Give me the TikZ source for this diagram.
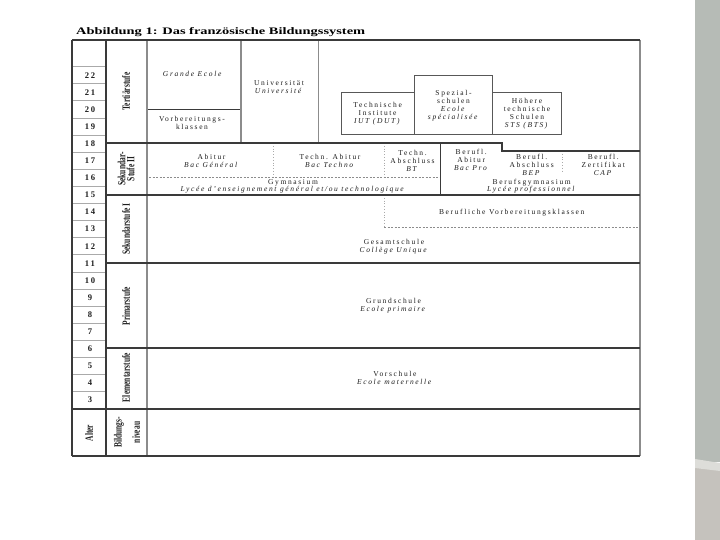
\documentclass[tikz,border=0pt]{standalone}
\usepackage{fontspec}
\usepackage{graphicx}
\setmainfont{Liberation Serif}[LetterSpace=22]
\newfontfamily\stagefont{Liberation Serif}
\newfontfamily\agefont{Liberation Serif}[LetterSpace=22]
\usetikzlibrary{positioning}
\definecolor{sgrid}{HTML}{3A3A3A}
\definecolor{sgray}{HTML}{8C8C8C}
\definecolor{sthin}{HTML}{AAAAAA}
\definecolor{stext}{HTML}{1E1E1E}
\definecolor{swall}{HTML}{B6BBB6}
\definecolor{sfloor}{HTML}{C5C2BD}
\definecolor{slight}{HTML}{DDDDD9}
\tikzset{
  x=1pt, y=-1pt,
  cell/.style={font=\fontsize{7.5}{8}\selectfont, text=stext, align=center, inner sep=0pt},
  age/.style={font=\agefont\fontsize{8.6}{9}\selectfont\bfseries, text=stext, inner sep=0pt},
  stage/.style={rotate=90, xscale=0.68, font=\stagefont\fontsize{11}{9}\selectfont\bfseries,
    text=stext, align=center, inner sep=0pt},
  heavy/.style={draw=sgrid, line width=2pt},
  rule/.style={draw=sgray, line width=1.6pt},
  edge/.style={draw=sgrid, line width=1.1pt},
  hair/.style={draw=sthin, line width=0.8pt},
  boxline/.style={draw=sgrid!85, line width=0.9pt},
  dotline/.style={draw=sthin, line width=0.8pt, dotted},
  dashline/.style={draw=sgray, line width=0.6pt, dash pattern=on 2pt off 1.5pt}
}

\begin{document}
\begin{tikzpicture}
  \useasboundingbox (0,0) rectangle (720,540);
  \fill[white] (0,0) rectangle (720,540);
  \fill[swall] (695,0) rectangle (720,462);
  \fill[sfloor] (695,466) rectangle (720,540);
  \fill[slight] (695,459) -- (720,463) -- (720,471) -- (695,468) -- cycle;
  \node[anchor=base west, inner sep=0pt] (title) at (76,35)
    {\resizebox{289pt}{7pt}{\stagefont\bfseries Abbildung 1: Das französische Bildungssystem}};
  \foreach \k in {0,...,19} \draw[hair] (72,{66.7+\k*17.1}) -- (106,{66.7+\k*17.1});
  \foreach \a in {3,...,22} \node[age] (age\a) at (90,{66.7+(22.5-\a)*17.1}) {\a};
  \draw[dotline] (273,143) -- (273,177.3);
  \draw[dotline] (384,143) -- (384,177.3);
  \draw[dotline] (384,195) -- (384,227.7);
  \draw[dotline] (562.7,151) -- (562.7,172);
  \draw[dashline] (149,177.3) -- (440.7,177.3);
  \draw[dashline] (384,227.7) -- (640,227.7);
  \draw[boxline] (341,92.3) rectangle (414.3,134.3);
  \draw[boxline] (414.3,75) rectangle (492.5,134.3);
  \draw[boxline] (492.5,92.3) rectangle (561.7,134.3);
  \draw[edge] (147,109.3) -- (241,109.3);
  \draw[rule] (241,40) -- (241,143);
  \draw[rule] (318.3,40) -- (318.3,143);
  \draw[edge] (440.7,143) -- (440.7,195);
  \draw[rule] (147,40) -- (147,456);
  \draw[rule] (640,40) -- (640,456);
  \draw[heavy] (106,143) -- (501.7,143) -- (501.7,151) -- (640,151);
  \foreach \y in {195,263,348} \draw[heavy] (106,\y) -- (640,\y);
  \draw[heavy] (72,408.7) -- (640,408.7);
  \draw[heavy] (106,40) -- (106,456);
  \draw[edge] (72,40) -- (640,40);
  \draw[edge] (72,456) -- (640,456);
  \draw[edge] (72,40) -- (72,456);
  \node[stage] (tert) at (126,91.5) {Tertiärstufe};
  \node[stage] (sek2) at (126,169) {Sekundar-\\Stufe II};
  \node[stage] (sek1) at (126,229) {Sekundarstufe I};
  \node[stage] (prim) at (126,306) {Primarstufe};
  \node[stage] (elem) at (126,377.5) {Elementarstufe};
  \node[stage] (niveau) at (127,432.4) {Bildungs-\\[7pt]niveau};
  \node[stage] (alter) at (89,433) {Alter};
  \node[cell] (grande) at (193,73.5) {\textit{Grande Ecole}};
  \node[cell] (vorb) at (192,123) {Vorbereitungs-\\klassen};
  \node[cell] (uni) at (279,87.5) {Universität\\\textit{Université}};
  \node[cell] (iut) at (377.6,113.3) {Technische\\Institute\\\textit{IUT (DUT)}};
  \node[cell] (spez) at (453.5,105.4) {Spezial-\\schulen\\\textit{Ecole}\\\textit{spécialisée}};
  \node[cell] (sts) at (527,114) {Höhere\\technische\\Schulen\\\textit{STS (BTS)}};
  \node[cell] (abitur) at (211.5,161.3) {Abitur\\\textit{Bac Général}};
  \node[cell] (techabi) at (330,161.3) {Techn. Abitur\\\textit{Bac Techno}};
  \node[cell] (bt) at (412.5,160.7) {Techn.\\Abschluss\\\textit{BT}};
  \node[cell] (bacpro) at (471.2,160) {Berufl.\\Abitur\\\textit{Bac Pro}};
  \node[cell] (bep) at (531.7,165.3) {Berufl.\\Abschluss\\\textit{BEP}};
  \node[cell] (cap) at (603.3,165.3) {Berufl.\\Zertifikat\\\textit{CAP}};
  \node[cell, font=\fontsize{7.5}{7.2}\selectfont] (gym) at (293,186.3)
    {Gymnasium\\\textit{Lycée d'enseignement général et/ou technologique}};
  \node[cell, font=\fontsize{7.5}{7.2}\selectfont] (berufgym) at (531.7,186)
    {Berufsgymnasium\\\textit{Lycée professionnel}};
  \node[cell] (vorbkl) at (511.7,212.7) {Berufliche Vorbereitungsklassen};
  \node[cell] (college) at (394,247) {Gesamtschule\\\textit{Collège Unique}};
  \node[cell] (grund) at (393.5,305.5) {Grundschule\\\textit{Ecole primaire}};
  \node[cell] (vorschule) at (395,378) {Vorschule\\\textit{Ecole maternelle}};
\end{tikzpicture}
\end{document}
